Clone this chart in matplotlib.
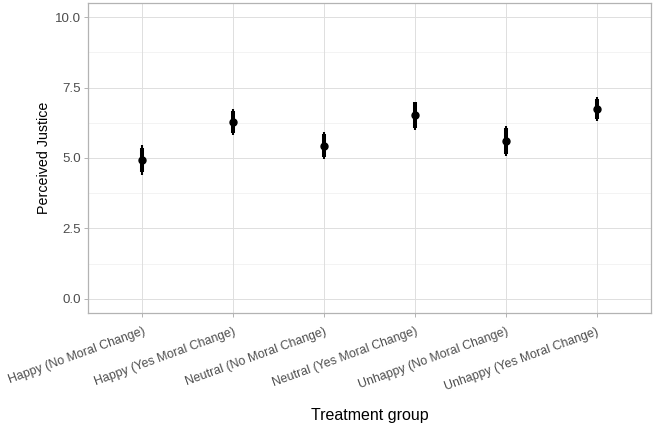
import numpy as np
import matplotlib
matplotlib.use('Agg')
import matplotlib.pyplot as plt

# values
groups = ['Happy (No Moral Change)', 'Happy (Yes Moral Change)',
          'Neutral (No Moral Change)', 'Neutral (Yes Moral Change)',
          'Unhappy (No Moral Change)', 'Unhappy (Yes Moral Change)']
means = [4.92, 6.29, 5.44, 6.51, 5.62, 6.75]
inner_lo = [4.50, 5.89, 5.03, 6.07, 5.15, 6.40]
inner_hi = [5.35, 6.66, 5.85, 6.97, 6.08, 7.08]
outer_lo = [4.40, 5.80, 4.95, 6.00, 5.08, 6.33]
outer_hi = [5.45, 6.75, 5.93, 7.00, 6.15, 7.15]
yticks = [0.0, 2.5, 5.0, 7.5, 10.0]

plt.rcParams['font.family'] = ['Liberation Sans', 'DejaVu Sans']

fig = plt.figure(figsize=(6.54, 4.29), dpi=100)
ax = fig.add_axes([88/654, 1-313/429, (651-88)/654, (313-3)/429])

x = np.arange(1, len(groups)+1)

# grid
for v in yticks:
    ax.axhline(v, color='#dedede', lw=0.7, zorder=0)
for v in [1.25, 3.75, 6.25, 8.75]:
    ax.axhline(v, color='#ececec', lw=0.45, zorder=0)
for xi in x:
    ax.axvline(xi, color='#dedede', lw=0.7, zorder=0)

ax.vlines(x, outer_lo, outer_hi, color='black', lw=1.5, zorder=2)
ax.vlines(x, inner_lo, inner_hi, color='black', lw=2.9, zorder=3)
ax.plot(x, means, 'o', color='black', ms=5, zorder=4)

ax.set_xlim(0.4, 6.6)
ax.set_ylim(-0.5, 10.5)
ax.set_yticks(yticks)
ax.set_yticklabels(['%.1f' % v for v in yticks])
ax.set_xticks(x)
ax.set_xticklabels(groups, rotation=20, ha='right', rotation_mode='anchor')

for s in ax.spines.values():
    s.set_color('#b3b3b3')
    s.set_linewidth(0.9)
ax.tick_params(colors='#b3b3b3', labelcolor='#4d4d4d', length=3, width=0.7)
ax.tick_params(axis='y', labelsize=9.6, pad=2)
ax.tick_params(axis='x', labelsize=8.9, pad=6)

ax.set_xlabel('Treatment group', fontsize=11.5, labelpad=11)
ax.set_ylabel('Perceived Justice', fontsize=10.3, labelpad=3)

fig.savefig('out.png', dpi=100)
